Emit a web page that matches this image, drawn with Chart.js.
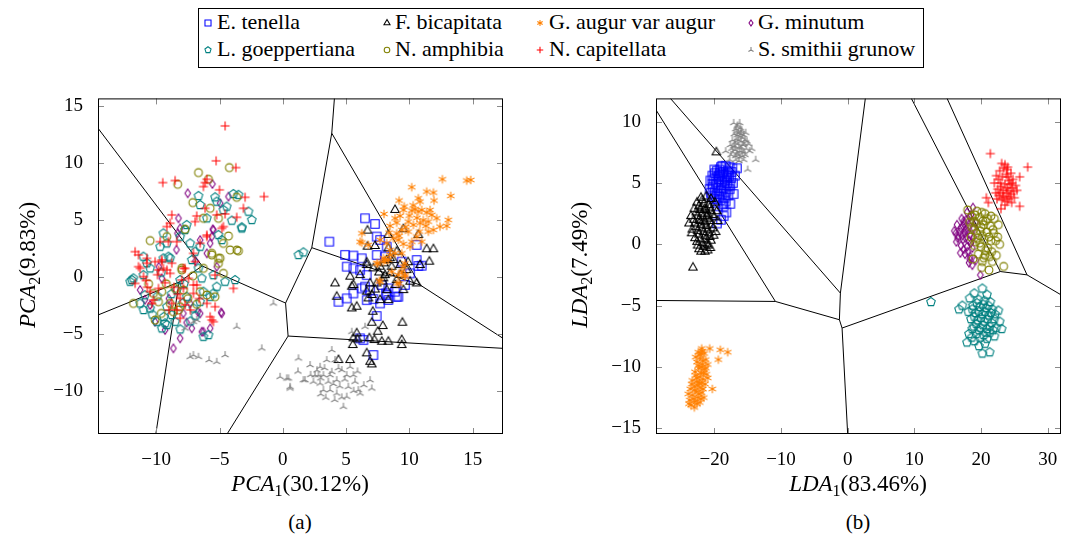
<!DOCTYPE html>
<html>
<head>
<meta charset="utf-8">
<title>PCA and LDA projections of diatom species</title>
<script src="https://cdn.jsdelivr.net/npm/chart.js@4.4.1/dist/chart.umd.min.js"></script>
<style>
  html, body { margin: 0; padding: 0; background: #fff; }
  body { width: 1070px; height: 537px; position: relative; overflow: hidden;
         font-family: 'Liberation Serif', 'Times New Roman', serif; color: #000; }
  canvas.plot { position: absolute; }
  #legendBox { position: absolute; left: 198px; top: 8px; width: 726px; height: 60px;
               border: 1px solid #000; box-sizing: border-box; }
  .entryText { position: absolute; font-size: 22px; line-height: 22px; white-space: nowrap; }
  .mark { position: absolute; }
  .label { position: absolute; font-size: 23px; line-height: 24px; white-space: nowrap; text-align: center; z-index: 2; }
  .label sub { font-size: 16px; vertical-align: -5px; line-height: 0; }
  .caption { position: absolute; font-size: 21px; line-height: 22px; text-align: center; }
</style>
</head>
<body>
<div id="legendBox"></div>
<canvas id="pcaChart" class="plot" width="540" height="400" style="left:0px;top:80px"></canvas>
<canvas id="ldaChart" class="plot" width="510" height="400" style="left:560px;top:80px"></canvas>

<div class="label" style="left:200px;top:472px;width:200px"><i>PCA</i><sub>1</sub>(30.12%)</div>
<div class="label" style="left:758px;top:472px;width:200px"><i>LDA</i><sub>1</sub>(83.46%)</div>
<div class="label" style="left:-72px;top:253px;width:200px;transform:rotate(-90deg)"><i>PCA</i><sub>2</sub>(9.83%)</div>
<div class="label" style="left:480px;top:253px;width:200px;transform:rotate(-90deg)"><i>LDA</i><sub>2</sub>(7.49%)</div>
<div class="caption" style="left:250px;top:511px;width:100px">(a)</div>
<div class="caption" style="left:808px;top:511px;width:100px">(b)</div>

<script>
// ---- species (legend order) ----
const speciesNames = ['E. tenella', 'F. bicapitata', 'G. augur var augur', 'G. minutum',
                      'L. goeppertiana', 'N. amphibia', 'N. capitellata', 'S. smithii grunow'];
const speciesColors = ['#0000ff', '#000000', '#ff8000', '#800080',
                       '#008080', '#808000', '#ff0000', '#808080'];
const speciesMarks = ['square', 'triangle', 'asterisk', 'diamond',
                      'pentagon', 'circle', 'plus', 'tristar'];

// ---- axis ticks and ranges ----
const pcaXTicks = [-10, -5, 0, 5, 10, 15];
const pcaYTicks = [-10, -5, 0, 5, 10, 15];
const ldaXTicks = [-20, -10, 0, 10, 20, 30];
const ldaYTicks = [-15, -10, -5, 0, 5, 10];
const pcaXRange = [-14.6, 17.4];
const pcaYRange = [-13.8, 15.7];
const ldaXRange = [-28.75, 32.0];
const ldaYRange = [-15.47, 11.9];

// ---- PCA scores (PCA1, PCA2) ----
const pcaTenella = [[6.5,5.16],[7.29,4.66],[3.68,3.11],[7.42,3.55],[4.92,1.94],[5.58,1.88],[6.24,1.64],[7.69,3.26],
  [8.21,2.67],[10.58,2.82],[5.05,0.91],[5.58,0.76],[6.11,0.61],[10.58,1.49],[10.98,0.99],[9.4,1.35],[7.42,1.93],
  [8.08,1.79],[6.63,0.17],[6.24,-1.0],[6.9,-1.15],[5.58,-1.44],[7.82,-0.7],[8.34,-1.0],[8.87,-1.29],[9.13,-1.73],
  [9.66,-0.7],[4.4,-2.17],[5.05,-1.88],[6.63,-2.03],[7.16,-1.94],[8.21,-1.58],[10.06,0.32],[6.5,-0.85],[7.42,-3.43],
  [8.16,-1.44],[9.0,-1.73],[7.69,-2.32],[8.34,-2.02],[10.71,0.97],[6.11,-5.39],[6.37,-5.54],[7.16,-6.86]];
const pcaBicapitata = [[8.87,5.9],[6.69,4.08],[8.34,3.7],[9.53,4.2],[6.69,2.67],[7.29,2.73],[10.71,3.7],[11.37,2.44],
  [11.9,2.44],[11.58,1.35],[10.85,1.06],[6.63,1.27],[8.48,1.65],[8.34,2.52],[9.0,2.23],[6.63,1.05],[7.16,0.76],
  [5.32,0.03],[7.69,0.91],[8.21,1.49],[8.74,1.49],[9.27,1.05],[9.79,0.61],[8.08,0.17],[8.48,0.32],[7.95,-0.12],
  [6.9,-0.56],[7.42,-0.56],[10.58,-0.56],[4.13,-0.56],[5.58,-0.7],[6.63,-1.29],[7.03,-1.58],[4.26,-1.73],[9.53,-1.15],
  [8.21,-1.15],[7.69,-2.03],[8.34,-2.03],[10.06,-0.41],[9.0,-0.26],[6.11,0.17],[5.45,-0.85],[5.45,-2.76],[5.84,-2.61],
  [6.76,-1.88],[7.11,-3.05],[7.03,-4.02],[7.9,-4.31],[7.5,-4.81],[9.45,-4.02],[5.84,-4.95],[5.58,-5.39],[5.9,-5.48],
  [6.84,-5.39],[7.24,-5.54],[7.82,-5.69],[8.34,-5.69],[9.4,-5.54],[9.4,-5.98],[5.53,-5.98],[4.4,-7.3],[5.32,-7.3],
  [6.63,-6.71],[6.9,-7.45],[7.03,-7.68],[8.6,0.9],[7.6,0.4],[9.3,0.2],[8.9,-0.7],[7.3,-1.1],[8.0,1.2],[9.9,1.3],
  [7.9,-0.4]];
const pcaAugur = [[12.61,8.59],[14.53,8.48],[14.85,8.53],[10.19,7.89],[11.37,7.51],[11.9,7.42],[13.27,7.13],[10.71,6.92],
  [10.85,6.63],[11.95,6.72],[9.19,6.72],[10.19,5.84],[10.45,5.96],[10.71,5.75],[10.98,5.9],[11.37,5.66],[11.77,5.46],
  [11.64,5.9],[9.53,5.9],[8.0,5.54],[8.87,5.16],[9.27,5.37],[8.48,4.49],[9.0,4.78],[9.92,4.87],[10.32,4.58],[10.85,4.72],
  [11.5,4.87],[12.16,5.16],[12.42,4.43],[13.08,5.02],[12.95,4.49],[11.5,3.99],[11.9,4.14],[9.4,4.14],[9.92,3.99],
  [6.24,3.84],[9.0,3.84],[8.74,3.4],[10.58,3.55],[10.98,3.11],[6.24,3.03],[6.76,2.82],[7.69,3.26],[8.21,2.97],
  [9.13,3.26],[9.53,2.91],[10.06,2.67],[10.19,3.11],[8.48,2.38],[8.87,2.08],[9.4,2.08],[7.95,1.65],[8.34,1.5],[7.42,1.2],
  [7.69,-0.41],[9.21,-0.56],[7.95,1.35],[8.08,1.49],[6.11,3.1],[8.48,1.93],[9.53,0.91],[9.66,0.17],[7.5,1.2],[8.61,0.47],
  [9.13,0.18],[9.4,0.47],[9.05,-0.56],[9.66,0.03],[7.63,-0.32],[9.66,1.2],[10.0,5.4],[10.6,5.2],[9.7,4.4],[11.1,5.0],
  [10.3,6.3],[9.6,6.2],[11.3,4.5],[10.8,4.0],[9.2,3.6],[8.4,3.9]];
const pcaMinutum = [[-7.51,7.36],[-5.56,8.18],[-4.29,7.07],[-4.95,6.48],[-8.24,5.16],[-5.53,4.2],[-5.74,2.96],[-6.0,2.08],
  [-8.32,3.84],[-5.22,0.91],[-5.48,4.13],[-5.61,3.55],[-8.11,4.28],[-6.53,3.25],[-11.27,-1.14],[-9.56,-0.12],
  [-10.48,-2.46],[-7.32,-2.32],[-6.53,-3.2],[-4.82,-3.2],[-6.27,-4.81],[-5.74,-4.51],[-10.09,-3.93],[-7.85,-3.2],
  [-9.3,-4.66],[-8.11,-5.39],[-8.64,-6.27],[-7.19,-4.51],[-6.4,-4.81],[-4.87,-3.11],[-6.72,-3.05],[-9.0,-1.9],
  [-10.9,-2.0],[-7.6,-4.0],[-9.8,0.9],[-6.9,1.4],[-8.4,2.4]];
const pcaGoeppertiana = [[-6.66,7.13],[-6.53,6.33],[-5.35,7.01],[-5.22,6.63],[-3.9,7.3],[-3.5,7.22],[-2.71,5.75],[-2.45,5.02],
  [-3.24,4.37],[-4.03,4.96],[-4.69,5.9],[-4.43,6.19],[-5.08,3.7],[-7.59,4.58],[-8.11,3.55],[-7.72,4.14],[-9.43,3.84],
  [-9.16,2.96],[-7.32,2.96],[-6.93,2.23],[-8.9,1.65],[-11.01,1.79],[-10.74,1.21],[-6.0,5.16],[1.24,1.94],[1.63,2.17],
  [-3.24,4.28],[-4.82,3.25],[-6.53,2.67],[-7.19,1.5],[-9.69,2.67],[-12.06,-0.41],[-11.8,-0.12],[-11.01,0.17],
  [-10.48,0.76],[-9.43,1.64],[-9.03,1.79],[-6.66,0.76],[-6.4,-0.12],[-5.48,0.17],[-5.22,-0.85],[-3.77,-0.26],
  [-4.56,-0.41],[-9.16,-2.61],[-8.77,-3.34],[-8.5,-3.93],[-9.16,-4.22],[-7.06,-2.76],[-6.53,-2.17],[-7.59,-1.73],
  [-6.27,-1.29],[-5.74,-1.73],[-9.95,-3.93],[-9.56,-4.51],[-10.48,-2.76],[-8.11,-0.26],[-11.93,-0.26],[-11.27,-2.32],
  [-11.0,-2.9],[-9.3,-4.07],[-6.27,-5.25],[-5.87,-5.1],[-5.48,-1.44],[-8.38,-1.14],[-9.9,-1.7],[-8.8,-1.5],[-7.8,-0.6],
  [-10.3,-3.3],[-8.1,-4.6],[-7.3,-3.9],[-9.6,0.4],[-10.9,-1.6],[-6.9,-3.4],[-7.9,-2.3],[-9.4,-3.5]];
const pcaAmphibia = [[-6.66,9.18],[-4.22,9.62],[-8.3,8.15],[-5.87,8.59],[-7.11,6.54],[-3.64,7.01],[-5.74,6.04],[-6.27,5.16],
  [-5.08,5.16],[-4.29,3.61],[-4.69,2.96],[-4.16,2.38],[-3.5,2.29],[-10.48,3.2],[-9.16,3.55],[-7.72,4.2],[-5.61,2.08],
  [-4.95,1.65],[-7.98,0.77],[-3.63,2.37],[-5.61,1.94],[-5.08,1.64],[-6.27,0.76],[-7.98,0.62],[-11.8,-2.32],[-10.22,-1.44],
  [-9.56,-1.29],[-9.82,-2.17],[-8.5,-1.0],[-7.85,-1.14],[-6.53,-1.29],[-6.0,-1.58],[-5.35,-1.73],[-8.9,-2.32],
  [-8.11,-2.61],[-8.64,-3.05],[-10.09,-3.78],[-8.24,-2.9],[-4.69,0.32],[-5.08,1.2],[-9.2,-0.6],[-7.5,-1.9],
  [-10.6,-0.6],[-6.8,-2.4],[-9.6,-3.2],[-7.1,0.1]];
const pcaCapitellata = [[-4.56,13.28],[-5.27,10.21],[-3.71,9.62],[-9.48,8.3],[-8.51,8.48],[-6.14,8.3],[-6.27,7.95],[-6.0,8.59],
  [-5.0,7.66],[-2.98,7.01],[-1.48,7.07],[-6.14,6.04],[-5.22,5.46],[-4.56,5.54],[-3.64,5.25],[-6.8,5.37],[-3.11,6.04],
  [-8.77,5.46],[-6.93,4.87],[-8.9,4.72],[-9.16,4.43],[-4.69,4.43],[-6.0,3.55],[-9.69,3.11],[-9.03,3.11],[-8.38,3.11],
  [-11.67,2.23],[-11.4,1.94],[-7.06,2.08],[-10.74,1.21],[-10.09,1.35],[-9.56,1.35],[-8.77,1.21],[-6.53,2.97],
  [-10.74,1.64],[-11.27,0.76],[-9.56,1.5],[-9.43,0.76],[-8.9,0.32],[-9.82,0.62],[-7.72,0.76],[-7.45,-0.12],[-7.98,-0.26],
  [-6.8,-0.7],[-7.06,-1.44],[-6.0,3.69],[-4.82,4.28],[-5.35,0.17],[-3.9,-1.0],[-7.85,-1.0],[-9.82,-1.0],[-10.22,-2.02],
  [-8.11,-1.88],[-7.72,-2.46],[-6.0,-2.32],[-5.35,-2.61],[-5.74,-3.49],[-5.48,-3.93],[-8.11,-3.63],[-8.37,-2.9],
  [-10.48,-1.29],[-6.93,1.35],[-11.4,0.91],[-11.0,0.03],[-11.67,-0.56],[-9.16,0.62],[-7.85,0.76],[-5.61,-3.78],
  [-10.35,-2.32],[-8.77,-2.32],[-7.06,-0.7],[-9.3,-0.5],[-8.6,-0.9],[-10.8,-0.3],[-9.9,0.2],[-8.3,-1.5],[-6.6,-1.9],
  [-7.3,-2.9],[-9.0,-2.9],[-10.7,-0.9]];
const pcaSmithii = [[-0.74,-2.32],[-3.64,-4.37],[-1.66,-6.27],[-7.32,-7.01],[-7.06,-6.86],[-6.66,-7.01],[-5.82,-7.3],
  [-5.22,-7.45],[-4.56,-6.86],[-6.8,-3.78],[-7.06,-3.93],[-7.72,-4.51],[1.24,-7.15],[2.16,-7.74],[-0.21,-8.77],
  [0.45,-8.91],[0.58,-9.65],[1.63,-9.06],[2.82,-8.62],[3.87,-6.42],[2.95,-7.89],[3.47,-7.3],[4.13,-7.3],[2.55,-8.62],
  [3.21,-8.62],[3.74,-8.62],[4.66,-8.18],[5.32,-7.89],[2.42,-9.2],[2.95,-9.35],[3.6,-9.2],[4.26,-9.06],[5.05,-8.62],
  [5.58,-8.62],[5.71,-9.2],[5.18,-9.65],[3.74,-9.94],[4.26,-10.23],[3.21,-9.94],[5.05,-10.52],[4.66,-10.58],
  [4.79,-11.4],[5.97,-9.94],[6.11,-10.23],[6.9,-9.06],[7.03,-9.79],[5.45,-4.81],[6.5,-4.37],[1.76,-9.06],[0.58,-9.79],
  [0.31,-8.91],[3.87,-8.33],[4.5,-9.6],[2.7,-8.2],[3.4,-10.6],[6.4,-9.5],[3.0,-8.9],[4.0,-9.4],[4.9,-9.0],[3.3,-8.0],
  [4.4,-8.0],[2.2,-8.6],[5.6,-10.0],[4.1,-10.8],[3.0,-10.3],[1.2,-8.3],[5.9,-8.3]];

// ---- LDA scores (LDA1, LDA2) ----
const ldaTenella = [[-19.0,6.3],[-18.3,6.4],[-17.3,6.2],[-16.6,6.2],[-19.6,6.0],[-18.7,5.9],[-17.9,5.8],[-20.3,5.6],
  [-19.3,5.6],[-18.5,5.5],[-17.5,5.4],[-20.6,5.2],[-19.8,5.1],[-18.9,5.1],[-18.1,5.0],[-17.2,5.0],[-20.2,4.7],[-19.4,4.6],
  [-18.6,4.6],[-17.7,4.5],[-20.5,4.2],[-19.6,4.1],[-18.8,4.1],[-17.9,4.0],[-17.1,4.1],[-20.0,3.7],[-19.1,3.6],[-18.3,3.5],
  [-19.5,3.1],[-18.6,3.1],[-17.6,3.3],[-18.2,2.6],[-18.6,2.3],[-19.6,1.7],[-19.0,2.0],[-20.3,4.9],[-19.9,5.8],[-18.0,6.0],
  [-17.6,4.8],[-19.3,5.3],[-19.2,6.1],[-18.9,5.7],[-18.4,5.2],[-19.7,4.9],[-18.2,4.3],[-17.8,5.6],[-20.1,5.3],
  [-19.0,4.4],[-18.5,3.8],[-19.8,3.4],[-20.4,3.9],[-17.4,5.9],[-18.8,6.4],[-19.5,5.5],[-17.9,4.8],[-18.7,3.3],
  [-20.7,4.5],[-19.3,3.9],[-18.1,5.4],[-17.7,6.3],[-16.9,5.6],[-19.9,4.3],[-18.35,4.85],[-19.15,5.85],[-20.0,6.1]];
const ldaBicapitata = [[-22.0,3.8],[-21.2,3.9],[-20.5,3.7],[-22.6,3.4],[-21.6,3.3],[-20.8,3.2],[-19.9,3.4],[-23.0,2.9],
  [-22.2,2.8],[-21.3,2.8],[-20.5,2.7],[-23.5,2.3],[-22.5,2.3],[-21.7,2.2],[-20.9,2.1],[-20.0,2.2],[-23.8,1.7],[-22.9,1.7],
  [-22.0,1.6],[-21.2,1.5],[-20.4,1.6],[-22.5,1.1],[-21.6,1.0],[-20.8,0.9],[-19.8,1.0],[-22.9,0.5],[-22.1,0.4],[-21.3,0.4],
  [-20.5,0.3],[-22.5,-0.1],[-21.6,-0.2],[-20.9,-0.1],[-22.0,-0.6],[-21.0,-0.5],[-23.3,1.2],[-19.5,1.9],[-21.9,3.0],
  [-21.0,2.5],[-22.3,2.0],[-19.7,7.5],[-23.2,-1.9],[-21.8,3.6],[-22.3,3.1],[-21.4,2.9],[-20.7,3.0],[-22.7,2.6],
  [-21.9,2.5],[-21.1,2.3],[-20.3,2.4],[-23.1,2.0],[-22.1,1.9],[-21.4,1.8],[-20.6,1.9],[-22.7,1.4],[-21.9,1.3],
  [-21.0,1.2],[-20.2,1.3],[-22.3,0.8],[-21.4,0.7],[-20.7,0.6],[-22.6,0.2],[-21.8,0.1],[-21.1,0.0],[-22.3,-0.4],
  [-21.4,-0.6],[-20.6,-0.3],[-23.4,0.9],[-20.1,0.7],[-19.6,2.7]];
const ldaAugur = [[-21.9,-8.5],[-22.4,-8.8],[-21.5,-8.9],[-22.1,-9.3],[-21.3,-9.4],[-22.6,-9.6],[-21.8,-9.8],[-21.0,-9.8],
  [-22.3,-10.1],[-21.5,-10.2],[-22.9,-10.4],[-22.0,-10.5],[-21.2,-10.6],[-22.6,-10.9],[-21.7,-11.0],[-23.3,-11.1],
  [-22.3,-11.3],[-21.4,-11.4],[-23.0,-11.6],[-22.1,-11.7],[-23.6,-11.8],[-22.7,-12.0],[-21.9,-12.1],[-23.3,-12.3],
  [-22.5,-12.5],[-23.7,-12.7],[-22.9,-12.8],[-22.2,-12.9],[-23.5,-13.1],[-23.0,-13.3],[-20.7,-8.5],[-19.1,-8.6],
  [-18.0,-8.8],[-19.4,-9.4],[-20.3,-11.8],[-22.8,-9.2],[-21.0,-10.9],[-23.9,-12.2],[-22.0,-8.9],[-21.6,-12.5],
  [-22.2,-9.0],[-21.7,-9.5],[-22.4,-9.9],[-21.6,-10.5],[-22.2,-10.8],[-21.9,-11.3],[-22.5,-11.5],[-22.9,-11.9],
  [-22.3,-12.2],[-23.1,-12.6],[-22.6,-13.0],[-21.7,-11.8],[-22.8,-10.7],[-21.3,-10.1],[-23.4,-11.4],[-22.0,-12.6],
  [-23.8,-13.0],[-21.8,-8.7],[-22.6,-11.2],[-21.9,-10.0]];
const ldaMinutum = [[18.8,3.0],[17.9,2.6],[18.5,2.4],[17.1,2.1],[17.8,2.0],[18.6,1.9],[16.4,1.6],[17.3,1.5],[18.1,1.4],
  [18.9,1.3],[16.0,1.1],[16.8,1.0],[17.6,0.9],[18.4,0.8],[16.5,0.5],[17.3,0.4],[18.2,0.3],[17.0,-0.1],[17.9,-0.2],
  [18.7,-0.3],[16.9,-0.7],[17.6,-0.8],[18.4,-1.0],[18.2,-1.5],[18.7,-1.7],[19.9,-2.5],[19.2,-1.3],[16.3,0.2],[19.2,1.8],
  [17.5,1.7],[18.3,2.2],[17.4,1.9],[18.0,1.1],[17.0,1.3],[16.6,0.7],[17.7,0.5],[18.5,0.1],[17.4,-0.4],[18.0,-0.6],
  [16.2,0.9],[18.9,0.6],[17.2,0.7],[18.3,-1.2],[17.7,1.2]];
const ldaGoeppertiana = [[20.2,-3.6],[19.0,-4.0],[20.9,-4.1],[18.3,-4.4],[19.6,-4.5],[20.5,-4.6],[21.4,-4.7],[18.8,-5.0],
  [19.8,-5.1],[20.8,-5.2],[21.7,-5.3],[16.7,-5.3],[18.1,-5.5],[19.2,-5.6],[20.2,-5.7],[21.2,-5.8],[22.1,-5.7],[18.5,-6.1],
  [19.5,-6.2],[20.5,-6.3],[21.6,-6.4],[22.8,-6.3],[18.9,-6.7],[19.9,-6.8],[20.9,-6.9],[23.1,-6.9],[18.2,-7.3],[19.3,-7.3],
  [20.4,-7.4],[21.3,-7.2],[17.9,-8.0],[19.0,-7.9],[19.7,-8.3],[20.6,-8.1],[20.2,-8.9],[21.3,-8.8],[12.5,-4.7],[22.0,-7.5],
  [19.4,-4.8],[20.3,-4.9],[21.1,-5.0],[18.7,-5.3],[19.7,-5.5],[20.6,-5.5],[21.5,-5.6],[19.0,-5.9],[20.0,-6.0],
  [21.0,-6.1],[22.0,-6.1],[19.3,-6.5],[20.3,-6.6],[21.3,-6.7],[22.3,-6.8],[18.7,-6.9],[19.7,-7.0],[20.8,-7.2],
  [19.8,-7.6],[20.9,-7.7],[18.6,-7.6],[21.8,-7.0],[17.2,-5.0],[22.6,-5.4]];
const ldaAmphibia = [[18.0,2.8],[19.4,2.7],[20.6,2.5],[18.6,2.3],[19.8,2.2],[21.0,2.1],[22.0,2.1],[18.3,1.8],[19.3,1.7],
  [20.4,1.6],[21.4,1.5],[22.6,1.6],[18.9,1.2],[19.9,1.1],[20.9,1.0],[21.9,0.9],[18.5,0.6],[19.5,0.5],[20.5,0.4],[21.5,0.3],
  [22.5,0.6],[19.0,-0.1],[20.0,-0.2],[21.0,-0.3],[19.6,-0.8],[20.6,-0.9],[21.6,-0.6],[20.2,-1.4],[21.7,-1.4],[23.4,-1.8],
  [21.2,-2.1],[20.1,-1.9],[18.8,-1.2],[22.8,0.0],[20.3,1.9],[19.1,2.4],[20.1,2.6],[21.5,2.3],[19.0,1.9],[20.0,1.4],
  [20.7,1.9],[21.8,1.2],[19.3,0.9],[20.2,0.7],[21.2,0.6],[22.2,0.3],[19.8,0.1],[20.7,-0.5],[21.3,-1.0],[19.2,0.2],
  [20.4,-1.1],[22.3,-0.9],[18.6,1.4]];
const ldaCapitellata = [[21.4,7.4],[23.1,6.6],[23.6,6.5],[27.0,6.3],[22.8,6.0],[23.9,6.1],[24.5,5.8],[25.8,5.5],[22.3,5.6],
  [23.2,5.5],[24.0,5.5],[24.8,5.3],[22.0,5.0],[22.9,5.0],[23.6,4.9],[24.4,4.9],[25.2,4.8],[22.5,4.5],[23.3,4.4],[24.1,4.4],
  [24.9,4.3],[22.7,4.0],[23.5,3.9],[24.3,3.9],[25.0,3.8],[23.1,3.6],[23.9,3.5],[24.6,3.4],[20.8,3.8],[21.1,3.4],[23.0,2.9],
  [25.8,3.1],[22.2,4.2],[24.2,5.2],[23.8,4.2],[23.4,6.2],[22.6,5.3],[23.8,5.7],[24.6,5.0],[23.0,4.7],[23.9,4.6],
  [24.7,4.6],[22.9,4.2],[24.5,4.1],[23.3,3.8],[24.1,3.7],[23.6,3.2],[25.4,4.4],[22.4,3.7],[24.0,6.3]];
const ldaSmithii = [[-16.5,9.7],[-16.2,9.9],[-16.8,9.4],[-15.9,9.3],[-16.4,9.1],[-17.0,9.0],[-15.6,8.9],[-16.1,8.8],
  [-16.7,8.6],[-17.3,8.5],[-15.4,8.5],[-16.0,8.4],[-16.5,8.2],[-15.7,8.1],[-17.1,8.0],[-16.3,7.9],[-15.2,7.8],[-16.9,7.7],
  [-15.9,7.6],[-16.6,7.4],[-17.5,7.3],[-15.4,7.3],[-16.2,7.1],[-17.2,7.5],[-14.7,7.6],[-14.4,7.8],[-15.6,6.9],[-16.8,6.9],
  [-17.7,6.9],[-13.8,6.9],[-15.0,6.1],[-16.1,9.5],[-16.9,8.3],[-15.3,9.1],[-14.9,8.2],[-17.6,8.1],[-16.3,6.8],[-15.8,7.2],
  [-16.0,9.0],[-16.7,9.2],[-18.3,7.6],[-17.1,9.9],[-16.6,9.6],[-16.0,9.2],[-15.8,8.7],[-16.4,8.5],[-16.9,8.0],
  [-15.5,8.2],[-16.2,7.6],[-16.8,7.2],[-15.6,7.5],[-16.4,7.3],[-15.1,8.4],[-17.4,7.8],[-16.55,8.9],[-15.95,7.9]];

// ---- decision boundaries, as segments [[x0,y0],[x1,y1]] ----
const pcaBoundaries = [
  [[-14.6,13.08],[-6.37,0.97]], [[-6.37,0.97],[-8.19,-0.44]], [[-8.19,-0.44],[-14.6,-3.34]],
  [[-8.19,-0.44],[-10.03,-13.8]], [[-6.37,0.97],[0.22,-2.29]], [[0.22,-2.29],[0.42,-5.19]],
  [[0.42,-5.19],[17.4,-6.27]], [[0.42,-5.19],[-4.4,-13.8]], [[0.22,-2.29],[2.29,2.58]],
  [[2.29,2.58],[3.87,12.64]], [[3.87,12.64],[4.08,15.7]], [[2.29,2.58],[10.85,-0.70]],
  [[3.87,12.64],[10.85,-0.70]], [[10.85,-0.70],[17.4,-5.39]]
];
const ldaBoundaries = [
  [[-26.59,11.9],[-1.09,-3.98]], [[2.65,11.9],[-1.09,-3.98]], [[-1.09,-3.98],[-1.24,-6.15]],
  [[-28.75,10.96],[-10.84,-4.66]], [[-28.75,-4.58],[-10.84,-4.66]], [[-10.84,-4.66],[-1.24,-6.15]],
  [[-1.24,-6.15],[-0.84,-6.83]], [[-0.84,-6.83],[0,-15.47]], [[-0.84,-6.83],[22.9,-2.22]],
  [[22.9,-2.22],[26.9,-2.49]], [[22.9,-2.22],[9.55,11.9]], [[26.9,-2.49],[14.91,11.9]],
  [[26.9,-2.49],[32.0,-4.12]]
];

const pcaSeries = [pcaTenella, pcaBicapitata, pcaAugur, pcaMinutum, pcaGoeppertiana, pcaAmphibia, pcaCapitellata, pcaSmithii];
const ldaSeries = [ldaTenella, ldaBicapitata, ldaAugur, ldaMinutum, ldaGoeppertiana, ldaAmphibia, ldaCapitellata, ldaSmithii];

// ---- marker glyphs drawn on small canvases ----
function makeMark(kind, color, k) {
  const size = 14;
  const c = document.createElement('canvas');
  c.width = size; c.height = size;
  const g = c.getContext('2d');
  g.translate(size / 2, size / 2);
  g.strokeStyle = color;
  g.lineWidth = 1.05;
  g.beginPath();
  const poly = (n, r, a0) => {
    for (let i = 0; i < n; i++) {
      const a = a0 + i * 2 * Math.PI / n;
      const px = r * Math.cos(a), py = r * Math.sin(a);
      if (i === 0) g.moveTo(px, py); else g.lineTo(px, py);
    }
    g.closePath();
  };
  const spokes = (angles, r) => {
    angles.forEach(d => {
      const a = d * Math.PI / 180;
      g.moveTo(0, 0); g.lineTo(r * Math.cos(a), r * Math.sin(a));
    });
  };
  switch (kind) {
    case 'square': { const h = 4.2 * k; g.rect(-h, -h, 2 * h, 2 * h); break; }
    case 'triangle': poly(3, 4.9 * k, -Math.PI / 2); break;
    case 'circle': g.arc(0, 0, 3.9 * k, 0, 2 * Math.PI); break;
    case 'plus': { const r = 4.5 * k; g.moveTo(-r, 0); g.lineTo(r, 0); g.moveTo(0, -r); g.lineTo(0, r); break; }
    case 'asterisk': spokes([-90, -30, 30, 90, 150, 210], 4.3 * k); break;
    case 'diamond': { const w = 2.8 * k, h = 4.2 * k; g.moveTo(0, -h); g.lineTo(w, 0); g.lineTo(0, h); g.lineTo(-w, 0); g.closePath(); break; }
    case 'pentagon': poly(5, 4.5 * k, -Math.PI / 2); break;
    case 'tristar': spokes([-90, 30, 150], 4.1 * k); break;
  }
  g.stroke();
  return c;
}

// ---- shared legend ----
const legendMarkX = [208, 387, 540, 751];
const legendTextX = [217, 395, 549, 758];
const legendRowY = [23, 50];
speciesNames.forEach((name, i) => {
  const col = i % 4, row = Math.floor(i / 4);
  const m = makeMark(speciesMarks[i], speciesColors[i], 0.72);
  m.className = 'mark';
  m.style.left = (legendMarkX[col] - 7) + 'px';
  m.style.top = (legendRowY[row] - 7) + 'px';
  document.body.appendChild(m);
  const t = document.createElement('div');
  t.className = 'entryText';
  t.textContent = name;
  t.style.left = legendTextX[col] + 'px';
  t.style.top = (legendRowY[row] - 12) + 'px';
  document.body.appendChild(t);
});

// ---- inward tick marks and frame ----
const framePlugin = {
  id: 'frameTicks',
  afterDatasetsDraw(chart) {
    const { ctx, chartArea: a, scales } = chart;
    const len = 6;
    ctx.save();
    ctx.lineWidth = 1;
    ctx.strokeStyle = '#8a8a8a';
    ctx.beginPath();
    scales.x.ticks.forEach(t => {
      const p = Math.round(scales.x.getPixelForValue(t.value)) + 0.5;
      ctx.moveTo(p, a.bottom); ctx.lineTo(p, a.bottom - len);
      ctx.moveTo(p, a.top); ctx.lineTo(p, a.top + len);
    });
    scales.y.ticks.forEach(t => {
      const p = Math.round(scales.y.getPixelForValue(t.value)) + 0.5;
      ctx.moveTo(a.left, p); ctx.lineTo(a.left + len, p);
      ctx.moveTo(a.right, p); ctx.lineTo(a.right - len, p);
    });
    ctx.stroke();
    ctx.strokeStyle = '#000';
    ctx.strokeRect(a.left + 0.5, a.top + 0.5, a.right - a.left - 1, a.bottom - a.top - 1);
    ctx.restore();
  }
};

const fmt = v => (v < 0 ? '\u2212' + Math.abs(v) : String(v));
const tickFont = { family: "'Liberation Serif', serif", size: 19 };

function buildChart(id, series, boundaries, xr, yr, xt, yt, pad, yAxisWidth) {
  const datasets = [];
  series.forEach((pts, i) => {
    datasets.push({
      label: speciesNames[i],
      data: pts,
      pointStyle: makeMark(speciesMarks[i], speciesColors[i], 1),
      pointRadius: 4,
      showLine: false,
      order: 20 - i
    });
  });
  boundaries.forEach(seg => {
    datasets.push({
      data: seg,
      showLine: true,
      borderColor: '#000',
      borderWidth: 1,
      pointRadius: 0,
      fill: false,
      order: 100
    });
  });
  return new Chart(document.getElementById(id), {
    type: 'scatter',
    data: { datasets },
    plugins: [framePlugin],
    options: {
      responsive: false,
      animation: false,
      events: [],
      layout: { padding: pad },
      plugins: { legend: { display: false }, tooltip: { enabled: false } },
      scales: {
        x: {
          type: 'linear', min: xr[0], max: xr[1],
          grid: { display: false }, border: { display: false },
          afterBuildTicks: s => { s.ticks = xt.map(v => ({ value: v })); },
          afterFit: s => { s.height = 46; },
          ticks: { padding: 7, color: '#000', font: tickFont, callback: fmt, maxRotation: 0, autoSkip: false }
        },
        y: {
          type: 'linear', min: yr[0], max: yr[1],
          grid: { display: false }, border: { display: false },
          afterBuildTicks: s => { s.ticks = yt.map(v => ({ value: v })); },
          afterFit: s => { s.width = yAxisWidth; },
          ticks: { padding: 7, color: '#000', font: tickFont, callback: fmt, autoSkip: false }
        }
      }
    }
  });
}

buildChart('pcaChart', pcaSeries, pcaBoundaries, pcaXRange, pcaYRange, pcaXTicks, pcaYTicks,
           { left: 0, top: 18, right: 37, bottom: 0 }, 98);
buildChart('ldaChart', ldaSeries, ldaBoundaries, ldaXRange, ldaYRange, ldaXTicks, ldaYTicks,
           { left: 0, top: 18, right: 9, bottom: 0 }, 96);
</script>
</body>
</html>
